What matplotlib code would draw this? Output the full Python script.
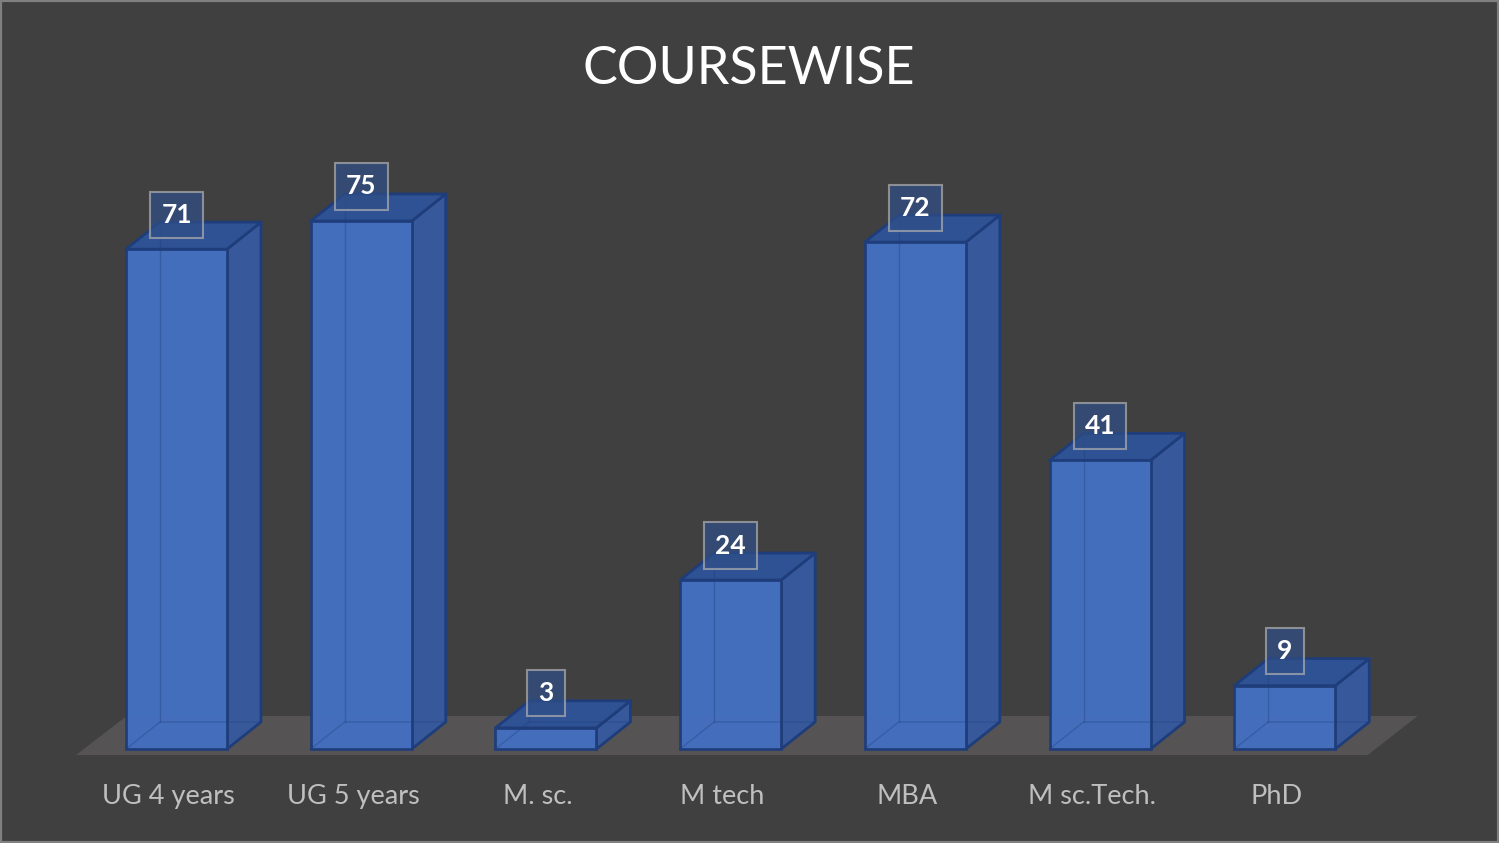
import matplotlib.pyplot as plt
from matplotlib.patches import Polygon, Rectangle

plt.rcParams['font.family'] = ['Lato', 'DejaVu Sans']

courses = ["UG 4 years", "UG 5 years", "M. sc.", "M tech", "MBA", "M sc.Tech.", "PhD"]
counts = [71, 75, 3, 24, 72, 41, 9]

BG = "#404040"
FRONT = "#4470c0"
SIDE = "#37599b"
TOP = "#2f5294"
EDGE = "#1f3d7a"

fig = plt.figure(figsize=(14.99, 8.43), dpi=100, facecolor=BG)
ax = fig.add_axes([0, 0, 1, 1])
ax.set_facecolor(BG)
ax.set_xlim(-0.9556, 7.160)
ax.set_ylim(-13.35, 106.39)
ax.axis("off")

width = 0.547
dx = 0.184
dy = 3.84

# floor
floor = Polygon([(-0.544, -0.85), (6.45, -0.85), (6.72, 4.69), (-0.27, 4.69)],
                closed=True, facecolor="#555353", edgecolor="none", zorder=1)
ax.add_patch(floor)

x = list(range(len(courses)))
for xi, v in zip(x, counts):
    l, r = xi - width / 2, xi + width / 2
    side = Polygon([(r, 0), (r + dx, dy), (r + dx, v + dy), (r, v)], closed=True,
                   facecolor=SIDE, edgecolor=EDGE, lw=2, joinstyle="round", zorder=2)
    top = Polygon([(l, v), (r, v), (r + dx, v + dy), (l + dx, v + dy)], closed=True,
                  facecolor=TOP, edgecolor=EDGE, lw=2, joinstyle="round", zorder=2)
    ax.add_patch(side)
    ax.add_patch(top)
    # faint hidden back edges
    ax.plot([l, l + dx, r + dx], [0, dy, dy], color=EDGE, lw=1, alpha=0.35, zorder=3.5)
    ax.plot([l + dx, l + dx], [dy, v + dy], color=EDGE, lw=1, alpha=0.35, zorder=3.5)

ax.bar(x, counts, width=width, color=FRONT, edgecolor=EDGE, linewidth=2, zorder=3, alpha=0.97)

for xi, v in zip(x, counts):
    ax.text(xi, v + 4.9, str(v), ha="center", va="center", color="white",
            fontsize=19, fontweight="bold", zorder=5,
            bbox=dict(boxstyle="square,pad=0.42", facecolor="#2f4f88", alpha=0.7,
                      edgecolor="#b0b0b0", linewidth=1.5))
    ax.text(xi - 0.045, -6.68, courses[xi - x[0]], ha="center", va="center",
            color="#bfbfbf", fontsize=19.5, zorder=5)

fig.text(0.4997, 0.918, "COURSEWISE", ha="center", va="center", color="white", fontsize=37.5)

fig.patches.append(Rectangle((0, 0), 1, 1, transform=fig.transFigure, fill=False,
                             edgecolor="#808080", linewidth=3, zorder=10))

fig.savefig("out.png", dpi=100, facecolor=BG)
